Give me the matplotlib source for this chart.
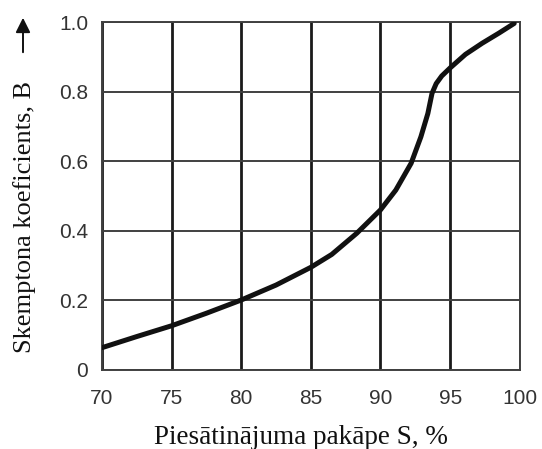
import matplotlib.pyplot as plt

# saturation degree S (%) and Skempton coefficient B
S = [70, 72.5, 75, 77.5, 80, 82.5, 85, 86.5, 88.3, 90, 91.1, 92.2, 92.9,
     93.4, 93.7, 94.0, 94.4, 95.0, 96.1, 97.3, 98.5, 99.6]
B = [0.064, 0.096, 0.127, 0.163, 0.201, 0.244, 0.295, 0.332, 0.393, 0.46,
     0.517, 0.594, 0.67, 0.737, 0.795, 0.823, 0.845, 0.868, 0.907, 0.939,
     0.968, 0.996]

x_ticks = [70, 75, 80, 85, 90, 95, 100]
y_ticks = [0, 0.2, 0.4, 0.6, 0.8, 1.0]
y_tick_labels = ['0', '0.2', '0.4', '0.6', '0.8', '1.0']

fig = plt.figure(figsize=(5.42, 4.49), dpi=100)
ax = fig.add_axes([0.188, 0.176, 0.771, 0.775])

for x in x_ticks:
    ax.axvline(x, color='#1a1a1a', lw=2.0, zorder=1)
for y in y_ticks:
    ax.axhline(y, color='#404040', lw=1.4, zorder=1)

ax.plot(S, B, color='#111111', lw=3.6, solid_capstyle='round',
        solid_joinstyle='round', zorder=3)

ax.set_xlim(70, 100)
ax.set_ylim(0, 1.0)
ax.set_xticks(x_ticks)
ax.set_yticks(y_ticks)
ax.set_yticklabels(y_tick_labels)
for sp in ax.spines.values():
    sp.set_color('#404040')
    sp.set_linewidth(1.4)

ax.tick_params(length=0, colors='#333333', labelsize=15)
ax.tick_params(axis='x', pad=14)
ax.tick_params(axis='y', pad=10)
for lab in ax.get_xticklabels() + ax.get_yticklabels():
    lab.set_fontfamily('Liberation Sans')

fig.text(301 / 542, 1 - 437 / 449, 'Piesātinājuma pakāpe S, %',
         family='Liberation Serif', size=19.5, color='#111111',
         ha='center', va='center')
fig.text(25 / 542, 1 - 217 / 449, 'Skemptona koeficients, B',
         family='Liberation Serif', size=19, color='#111111',
         ha='center', va='center', rotation=90)
fig.add_artist(plt.Annotation('', xy=(23 / 542, 1 - 15 / 449),
                              xytext=(23 / 542, 1 - 55 / 449),
                              xycoords='figure fraction',
                              arrowprops=dict(arrowstyle='-|>', color='#111111',
                                              lw=1.4, mutation_scale=22)))

fig.savefig('out.png', dpi=100)
